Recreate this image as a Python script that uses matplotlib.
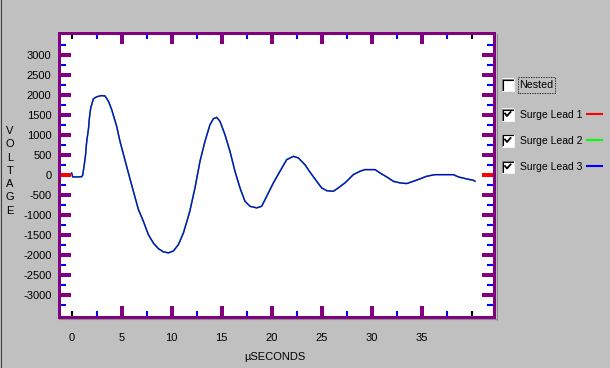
import matplotlib
matplotlib.use("Agg")
import matplotlib.pyplot as plt
from matplotlib.patches import Rectangle
from matplotlib.lines import Line2D

# ---------------- data ----------------
time_us = [0.0, 0.1, 0.5, 1.0, 1.1, 1.23, 1.37, 1.5, 1.67, 1.77, 1.9, 2.17, 2.5, 3.0, 3.33,
           3.67, 4.0, 4.5, 4.83, 5.23, 5.67, 6.17, 6.67, 7.17, 7.67, 8.17, 8.67, 9.17, 9.67, 10.17,
           10.67, 11.17, 11.8, 12.33, 12.83, 13.33, 13.83, 14.17, 14.5, 14.83, 15.33, 15.83, 16.33,
           16.83, 17.33, 17.83, 18.5, 19.0, 19.5, 20.17, 20.83, 21.5, 22.17, 22.67, 23.33, 23.83,
           24.5, 25.0, 25.5, 26.17, 26.67, 27.33, 28.17, 28.83, 29.33, 30.33, 30.83, 31.5, 32.17,
           32.83, 33.5, 34.17, 34.83, 35.5, 36.33, 37.17, 38.17, 38.67, 39.5, 40.17, 40.33]

lead1 = [50, -45, -45, -40, 0, 220, 470, 845, 1140, 1430, 1680, 1910, 1960, 1990, 1980,
         1850, 1640, 1220, 845, 470, 55, -405, -860, -1155, -1490, -1700, -1840, -1920, -1945, -1900,
         -1740, -1450, -920, -320, 345, 845, 1260, 1410, 1445, 1345, 1010, 595, 95,
         -320, -655, -780, -820, -780, -530, -195, 95, 385, 470, 430, 260, 75,
         -155, -320, -390, -405, -320, -195, 12, 95, 138, 138, 55, -45, -155,
         -195, -212, -155, -95, -30, 12, 12, 12, -45, -95, -130, -155]

lead2 = [50, -45, -45, -40, 0, 200, 450, 830, 1120, 1410, 1670, 1900, 1960, 1990, 1975,
         1840, 1620, 1200, 830, 450, 40, -420, -870, -1170, -1500, -1710, -1845, -1920, -1945, -1895,
         -1730, -1430, -900, -300, 360, 860, 1270, 1410, 1440, 1335, 995, 580, 80,
         -335, -665, -785, -820, -775, -515, -180, 110, 395, 470, 425, 250, 65,
         -165, -325, -390, -400, -315, -185, 20, 100, 138, 135, 50, -50, -160,
         -195, -210, -150, -90, -25, 12, 12, 10, -50, -100, -135, -155]

lead3 = [50, -45, -45, -40, 0, 220, 470, 845, 1140, 1430, 1680, 1910, 1960, 1990, 1980,
         1850, 1640, 1220, 845, 470, 55, -405, -860, -1155, -1490, -1700, -1840, -1920, -1945, -1900,
         -1740, -1450, -920, -320, 345, 845, 1260, 1410, 1445, 1345, 1010, 595, 95,
         -320, -655, -780, -820, -780, -530, -195, 95, 385, 470, 430, 260, 75,
         -155, -320, -390, -405, -320, -195, 12, 95, 138, 138, 55, -45, -155,
         -195, -212, -155, -95, -30, 12, 12, 12, -45, -95, -130, -155]

series_names = ["Surge Lead 1", "Surge Lead 2", "Surge Lead 3"]
series_colors = ["#FF0000", "#00FF00", "#0000FF"]

x_major = [0, 5, 10, 15, 20, 25, 30, 35, 40]
x_major_labels = ["0", "5", "10", "15", "20", "25", "30", "35", ""]
x_minor = [2.5, 7.5, 12.5, 17.5, 22.5, 27.5, 32.5, 37.5]
y_major = [-3000, -2500, -2000, -1500, -1000, -500, 0, 500, 1000, 1500, 2000, 2500, 3000]
y_minor = [-3250, -2750, -2250, -1750, -1250, -750, -250, 250, 750, 1250, 1750, 2250, 2750, 3250]

# ---------------- figure ----------------
W, H = 610, 368
BG = "#C0C0C0"
PURPLE = "#800080"
plt.rcParams['font.family'] = ['Liberation Sans', 'DejaVu Sans']
fig = plt.figure(figsize=(W / 100, H / 100), dpi=100, facecolor=BG)


def fx(px):
    return px / W


def fy(py):
    return 1 - py / H


left, right, top, bottom = 59.2, 494.2, 33.2, 316.8
ax = fig.add_axes([fx(left), fy(bottom), fx(right) - fx(left), fy(top) - fy(bottom)])
ax.set_facecolor("white")
ax.set_xlim(-1.25, 42.25)
ax.set_ylim(-3545, 3550)

for sp in ax.spines.values():
    sp.set_color(PURPLE)
    sp.set_linewidth(2.16)

for vals, c, lw in zip([lead1, lead2, lead3], series_colors, [1.0, 1.0, 0.9]):
    ax.plot(time_us, vals, color=c, lw=lw, solid_joinstyle="miter")

# ticks
ax.set_xticks(x_major)
ax.set_xticklabels(x_major_labels)
ax.set_xticks(x_minor, minor=True)
ax.set_yticks(y_major)
ax.set_yticklabels([str(v) for v in y_major])
ax.set_yticks(y_minor, minor=True)

ax.tick_params(axis="x", which="major", direction="in", top=True, bottom=True,
               length=7.8, width=2.9, color=PURPLE, pad=12, labelsize=8)
ax.tick_params(axis="x", which="minor", direction="in", top=True, bottom=True,
               length=4.6, width=1.5, color="#0000FF")
ax.tick_params(axis="y", which="major", direction="in", left=True, right=True,
               length=8.6, width=2.9, color=PURPLE, pad=5.5, labelsize=8)
ax.tick_params(axis="y", which="minor", direction="in", left=True, right=True,
               length=5.3, width=1.5, color="#0000FF")

for tk, v in zip(ax.xaxis.get_major_ticks(), x_major):
    if v in (0, 40):
        for ln in (tk.tick1line, tk.tick2line):
            ln.set_color("black")
            ln.set_markeredgecolor("black")
            ln.set_markersize(4.6)
            ln.set_markeredgewidth(1.5)
for tk, v in zip(ax.yaxis.get_major_ticks(), y_major):
    if v == 0:
        for ln in (tk.tick1line, tk.tick2line):
            ln.set_color("#FF0000")
            ln.set_markeredgecolor("#FF0000")

# shadow lines next to the frame
fig.add_artist(Line2D([fx(496.5), fx(496.5)], [fy(34), fy(319.5)], color="#8C8C8C", lw=0.8,
                      transform=fig.transFigure))
fig.add_artist(Line2D([fx(59), fx(497)], [fy(319), fy(319)], color="#8C8C8C", lw=0.8,
                      transform=fig.transFigure))
fig.add_artist(Line2D([fx(0.5), fx(0.5)], [0, 1], color="#404040", lw=0.8,
                      transform=fig.transFigure))

# axis titles
fig.text(fx(275), fy(357.5), "µSECONDS", ha="center", va="center", fontsize=8)
for i, ch in enumerate("VOLTAGE"):
    fig.text(fx(10), fy(131 + i * 13.3), ch, ha="center", va="center", fontsize=8)


# legend / checkboxes
def checkbox(py_center, checked):
    x0, size = 501.5, 12
    y0 = py_center - size / 2
    fig.add_artist(Rectangle((fx(x0), fy(y0 + size)), size / W, size / H, transform=fig.transFigure,
                             facecolor="white", edgecolor="none"))
    # sunken 3D edges
    fig.add_artist(Line2D([fx(x0), fx(x0), fx(x0 + size)], [fy(y0 + size), fy(y0), fy(y0)],
                          color="#808080", lw=0.8, transform=fig.transFigure))
    fig.add_artist(Line2D([fx(x0 + 1), fx(x0 + 1), fx(x0 + size - 1)],
                          [fy(y0 + size - 1), fy(y0 + 1), fy(y0 + 1)],
                          color="black", lw=0.8, transform=fig.transFigure))
    fig.add_artist(Line2D([fx(x0), fx(x0 + size), fx(x0 + size)],
                          [fy(y0 + size), fy(y0 + size), fy(y0)],
                          color="#F0F0F0", lw=0.8, transform=fig.transFigure))
    if checked:
        cx, cy = x0 + 3.5, py_center
        fig.add_artist(Line2D([fx(cx), fx(cx + 2), fx(cx + 5.5)],
                              [fy(cy - 1), fy(cy + 1.5), fy(cy - 2.5)],
                              color="black", lw=1.3, transform=fig.transFigure))


checkbox(84.5, False)
fig.text(fx(519), fy(85), "Nested", ha="left", va="center", fontsize=7.7)
fig.add_artist(Rectangle((fx(517.5), fy(92.5)), 37 / W, 16 / H, transform=fig.transFigure,
                         facecolor="none", edgecolor="black", lw=0.6, linestyle=(0, (1, 1))))

for name, c, yc in zip(series_names, series_colors, [114.5, 140.5, 167]):
    checkbox(yc, True)
    fig.text(fx(520), fy(yc), name, ha="left", va="center", fontsize=7.5)
    fig.add_artist(Line2D([fx(587), fx(601.5)], [fy(yc - 1), fy(yc - 1)], color=c, lw=1.5,
                          transform=fig.transFigure))

fig.savefig("out.png", dpi=100, facecolor=BG)
